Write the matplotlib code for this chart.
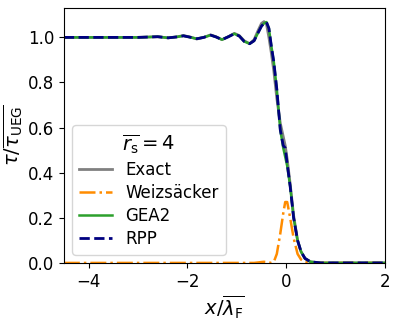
import matplotlib
matplotlib.use("Agg")
import matplotlib.pyplot as plt

x = [-4.5, -4.0, -3.5, -3.0, -2.6, -2.39, -2.22, -2.08, -1.95, -1.81, -1.67, -1.53,
     -1.42, -1.30, -1.17, -1.05, -0.95, -0.85, -0.74, -0.65, -0.57, -0.50, -0.45,
     -0.40, -0.35, -0.30, -0.25, -0.19, -0.12, -0.06, -0.02, 0.02, 0.08, 0.15,
     0.23, 0.30, 0.38, 0.49, 0.7, 1.0, 2.0]

exact = [1.0, 1.0, 1.0, 1.0, 1.003, 0.998, 1.002, 1.008, 1.002, 0.993, 1.0, 1.011,
         1.003, 0.99, 1.003, 1.018, 1.008, 0.985, 0.972, 0.99, 1.03, 1.062, 1.07,
         1.06, 1.0, 0.93, 0.85, 0.73, 0.62, 0.56, 0.52, 0.46, 0.35, 0.21,
         0.10, 0.05, 0.02, 0.005, 0.0, 0.0, 0.0]

weiz = [0.0, 0.0, 0.0, 0.0, 0.0, 0.0, 0.0, 0.0, 0.0, 0.0, 0.0, 0.0,
        0.0, 0.0, 0.0, 0.0, 0.0, 0.0, 0.0, 0.0, 0.002, 0.004, 0.005,
        0.004, 0.002, 0.0, 0.005, 0.04, 0.13, 0.22, 0.27, 0.27, 0.20, 0.11,
        0.04, 0.015, 0.004, 0.0, 0.0, 0.0, 0.0]

gea2 = [1.0, 1.0, 1.0, 1.0, 1.003, 0.998, 1.002, 1.007, 1.001, 0.994, 1.0, 1.01,
        1.002, 0.99, 1.003, 1.016, 1.006, 0.982, 0.972, 0.985, 1.02, 1.05, 1.062,
        1.068, 1.04, 0.96, 0.89, 0.77, 0.59, 0.51, 0.47, 0.43, 0.34, 0.20,
        0.10, 0.05, 0.02, 0.005, 0.0, 0.0, 0.0]

rpp = [1.0, 1.0, 1.0, 1.0, 1.003, 0.998, 1.002, 1.007, 1.001, 0.994, 1.0, 1.01,
       1.002, 0.99, 1.003, 1.016, 1.006, 0.982, 0.972, 0.985, 1.02, 1.05, 1.062,
       1.068, 1.04, 0.96, 0.89, 0.77, 0.59, 0.52, 0.51, 0.44, 0.34, 0.20,
       0.10, 0.05, 0.02, 0.005, 0.0, 0.0, 0.0]

xticks = [-4, -2, 0, 2]
yticks = [0.0, 0.2, 0.4, 0.6, 0.8, 1.0]

fig = plt.figure(figsize=(3.99, 3.23), dpi=100)
ax = fig.add_axes([0.160, 0.186, 0.805, 0.789])

ax.plot(x, exact, color="gray", lw=2.0, label="Exact")
ax.plot(x, weiz, color="darkorange", ls="-.", lw=1.8, label="Weizsäcker")
ax.plot(x, gea2, color="tab:green", ls="-", lw=1.8, label="GEA2")
ax.plot(x, rpp, color="navy", ls="--", lw=2.0, label="RPP")

ax.set_xlim(-4.5, 2)
ax.set_ylim(0, 1.13)
ax.set_xticks(xticks)
ax.set_yticks(yticks)
ax.tick_params(labelsize=12)
ax.set_xlabel(r"$x/\overline{\lambda_{\mathrm{F}}}$", fontsize=14, labelpad=2)
ax.set_ylabel(r"$\tau/\overline{\tau_{\mathrm{UEG}}}$", fontsize=14, labelpad=2)

leg = ax.legend(title=r"$\overline{r_{\mathrm{s}}}=4$", fontsize=12, title_fontsize=14,
                loc="lower left", borderaxespad=0.5, labelspacing=0.3)

fig.savefig("out.png", dpi=100)
